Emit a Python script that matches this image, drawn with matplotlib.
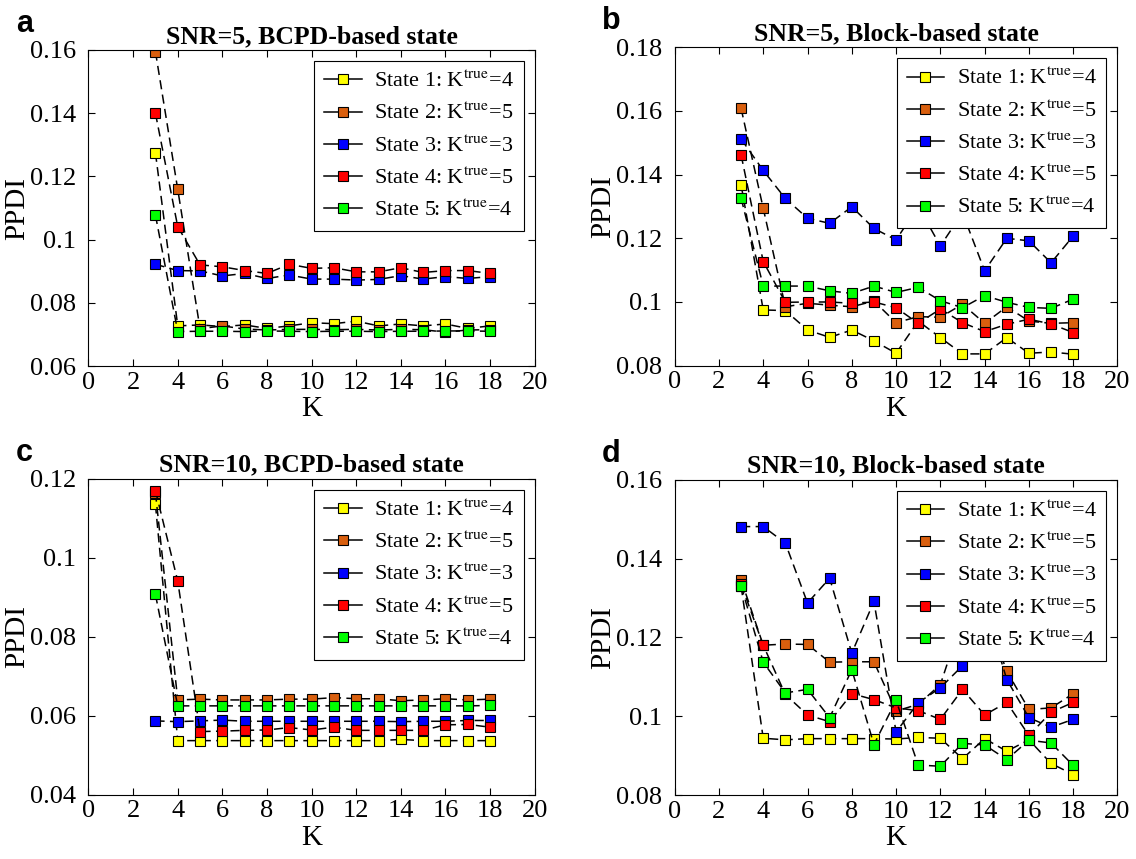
import matplotlib.pyplot as plt
from matplotlib.lines import Line2D
import numpy as np

plt.rcParams['font.family'] = ['Liberation Serif', 'DejaVu Serif']
plt.rcParams['mathtext.fontset'] = 'stix'

K = list(range(3, 19))

# SNR=5, BCPD-based state
a_s1 = [0.1275, 0.0727, 0.0730, 0.0725, 0.0730, 0.0719, 0.0727, 0.0737, 0.0734, 0.0742, 0.0727, 0.0733, 0.0727, 0.0733, 0.0719, 0.0727]
a_s2 = [0.1595, 0.1159, 0.0718, 0.0727, 0.0717, 0.0714, 0.0716, 0.0716, 0.0715, 0.0716, 0.0714, 0.0716, 0.0715, 0.0707, 0.0714, 0.0715]
a_s3 = [0.0922, 0.0902, 0.0901, 0.0885, 0.0893, 0.0877, 0.0888, 0.0875, 0.0875, 0.0872, 0.0874, 0.0886, 0.0875, 0.0883, 0.0877, 0.0883]
a_s4 = [0.1400, 0.1041, 0.0920, 0.0914, 0.0902, 0.0893, 0.0922, 0.0909, 0.0911, 0.0898, 0.0898, 0.0911, 0.0896, 0.0902, 0.0902, 0.0893]
a_s5 = [0.1078, 0.0709, 0.0710, 0.0710, 0.0709, 0.0711, 0.0710, 0.0709, 0.0710, 0.0710, 0.0709, 0.0710, 0.0710, 0.0711, 0.0711, 0.0710]

# SNR=5, Block-based state
b_s1 = [0.1368, 0.0975, 0.0973, 0.0912, 0.0889, 0.0912, 0.0878, 0.0839, 0.0940, 0.0888, 0.0837, 0.0837, 0.0888, 0.0839, 0.0843, 0.0836]
b_s2 = [0.1608, 0.1294, 0.0985, 0.0996, 0.0990, 0.0985, 0.1003, 0.0935, 0.0954, 0.0952, 0.0993, 0.0933, 0.0985, 0.0940, 0.0933, 0.0935]
b_s3 = [0.1512, 0.1413, 0.1325, 0.1263, 0.1247, 0.1299, 0.1231, 0.1195, 0.1300, 0.1176, 0.1280, 0.1098, 0.1200, 0.1192, 0.1123, 0.1207]
b_s4 = [0.1462, 0.1127, 0.0999, 0.1000, 0.1000, 0.0996, 0.1000, 0.0982, 0.0933, 0.0978, 0.0935, 0.0907, 0.0930, 0.0946, 0.0931, 0.0904]
b_s5 = [0.1326, 0.1050, 0.1050, 0.1050, 0.1035, 0.1027, 0.1050, 0.1030, 0.1046, 0.1004, 0.0982, 0.1020, 0.0999, 0.0983, 0.0980, 0.1009]

# SNR=10, BCPD-based state
c_s1 = [0.1135, 0.0537, 0.0537, 0.0537, 0.0537, 0.0537, 0.0537, 0.0537, 0.0537, 0.0537, 0.0537, 0.0540, 0.0537, 0.0537, 0.0537, 0.0537]
c_s2 = [0.1165, 0.0640, 0.0642, 0.0640, 0.0640, 0.0640, 0.0642, 0.0642, 0.0646, 0.0643, 0.0643, 0.0638, 0.0640, 0.0643, 0.0640, 0.0642]
c_s3 = [0.0587, 0.0585, 0.0587, 0.0589, 0.0586, 0.0586, 0.0586, 0.0586, 0.0586, 0.0586, 0.0586, 0.0585, 0.0586, 0.0586, 0.0588, 0.0588]
c_s4 = [0.1170, 0.0941, 0.0560, 0.0561, 0.0563, 0.0564, 0.0570, 0.0564, 0.0571, 0.0563, 0.0563, 0.0563, 0.0563, 0.0577, 0.0578, 0.0571]
c_s5 = [0.0907, 0.0625, 0.0625, 0.0625, 0.0625, 0.0625, 0.0625, 0.0625, 0.0625, 0.0625, 0.0625, 0.0625, 0.0625, 0.0625, 0.0625, 0.0626]

# SNR=10, Block-based state
d_s1 = [0.1330, 0.0944, 0.0940, 0.0943, 0.0943, 0.0943, 0.0943, 0.0942, 0.0946, 0.0944, 0.0892, 0.0943, 0.0911, 0.0940, 0.0880, 0.0852]
d_s2 = [0.1346, 0.1180, 0.1183, 0.1182, 0.1137, 0.1138, 0.1138, 0.1013, 0.1030, 0.1080, 0.1250, 0.1270, 0.1114, 0.1017, 0.1021, 0.1057]
d_s3 = [0.1481, 0.1481, 0.1439, 0.1287, 0.1350, 0.1160, 0.1291, 0.0960, 0.1034, 0.1072, 0.1128, 0.1280, 0.1093, 0.0996, 0.0972, 0.0992]
d_s4 = [0.1335, 0.1180, 0.1055, 0.1003, 0.0986, 0.1057, 0.1042, 0.1021, 0.1014, 0.0992, 0.1068, 0.1003, 0.1035, 0.0951, 0.1010, 0.1035]
d_s5 = [0.1331, 0.1137, 0.1059, 0.1068, 0.0996, 0.1118, 0.0928, 0.1040, 0.0876, 0.0873, 0.0931, 0.0927, 0.0890, 0.0939, 0.0932, 0.0875]

labels = ['State 1: K$^{\\mathrm{true}}$=4', 'State 2: K$^{\\mathrm{true}}$=5',
          'State 3: K$^{\\mathrm{true}}$=3', 'State 4: K$^{\\mathrm{true}}$=5',
          'State 5: K$^{\\mathrm{true}}$=4']
colors = ['#ffff00', '#d95f0e', '#0000ff', '#ff0000', '#00ff00']

panels = [
    ('a', 'SNR=5, BCPD-based state', [a_s1, a_s2, a_s3, a_s4, a_s5], (0.06, 0.16), [0.06, 0.08, 0.1, 0.12, 0.14, 0.16],
     [0.0779, 0.5739, 0.3928, 0.3679]),
    ('b', 'SNR=5, Block-based state', [b_s1, b_s2, b_s3, b_s4, b_s5], (0.08, 0.18), [0.08, 0.1, 0.12, 0.14, 0.16, 0.18],
     [0.5939, 0.5743, 0.3898, 0.3707]),
    ('c', 'SNR=10, BCPD-based state', [c_s1, c_s2, c_s3, c_s4, c_s5], (0.04, 0.12), [0.04, 0.06, 0.08, 0.1, 0.12],
     [0.0779, 0.0748, 0.3928, 0.3679]),
    ('d', 'SNR=10, Block-based state', [d_s1, d_s2, d_s3, d_s4, d_s5], (0.08, 0.16), [0.08, 0.1, 0.12, 0.14, 0.16],
     [0.5939, 0.0745, 0.3898, 0.3671]),
]

fig = plt.figure(figsize=(11.36, 8.59), dpi=100)

for letter, title, series, ylim, yticks, pos in panels:
    ax = fig.add_axes(pos)
    for vals, c in zip(series, colors):
        ax.plot(K, vals, linestyle='--', dashes=(6, 3.5), color='k', linewidth=1.1,
                marker='s', markersize=7.5, markerfacecolor=c, markeredgecolor='k',
                markeredgewidth=0.8)
    ax.set_xlim(0, 20)
    ax.set_ylim(*ylim)
    ax.set_xticks(range(0, 21, 2))
    ax.set_yticks(yticks)
    ax.set_yticklabels(['%g' % t for t in yticks])
    ax.tick_params(direction='in', top=True, right=True, labelsize=19, length=5, width=0.8)
    ax.tick_params(axis='y', pad=9)
    ax.tick_params(axis='x', pad=4)
    ax.set_xlabel('K', fontsize=21, labelpad=2)
    ax.set_ylabel('PPDI', fontsize=21, labelpad=0)
    ax.set_title(title, fontsize=18.5, fontweight='bold', pad=5)
    for sp in ax.spines.values():
        sp.set_linewidth(0.8)

    handles = [Line2D([], [], color='k', linewidth=1.1, marker='s', markersize=7.5,
                      markerfacecolor=c, markeredgecolor='k', markeredgewidth=0.8)
               for c in colors]
    leg = ax.legend(handles, labels, loc='upper right', fontsize=16, fancybox=False,
                    edgecolor='k', framealpha=1, handlelength=1.7, labelspacing=0.5,
                    borderaxespad=0.5, borderpad=0.45, handletextpad=0.55)
    leg.get_frame().set_linewidth(0.8)

    fig.text(pos[0] - 0.064, pos[1] + pos[3] + 0.030, letter, fontsize=22, fontweight='bold',
             family=['Liberation Sans', 'DejaVu Sans'], va='center', ha='left')

fig.savefig('out.png', dpi=100)
